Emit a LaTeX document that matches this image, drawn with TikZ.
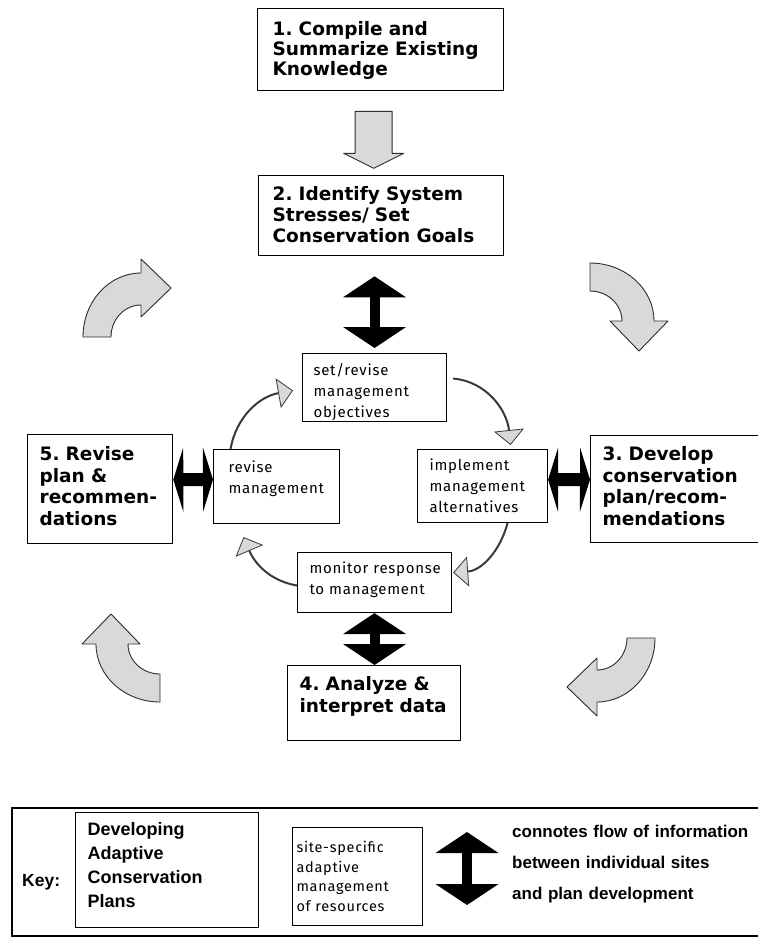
\documentclass[tikz,border=0pt]{standalone}
\usepackage{fontspec}
\setmainfont{DejaVu Sans}
\newfontfamily\keyfont{Liberation Sans}
\newfontfamily\handfont{Fira Sans}[LetterSpace=5]
\usetikzlibrary{arrows.meta}

\tikzset{
  stage/.style={draw, line width=1.3pt, anchor=north west, inner ysep=0pt, align=left,
    font=\bfseries\fontsize{18.5}{21.5}\selectfont},
  site/.style={draw, line width=1.1pt, anchor=north west, inner ysep=0pt, align=left,
    font=\handfont\fontsize{15}{21}\selectfont},
  keytext/.style={inner sep=0pt, font=\keyfont\bfseries\fontsize{17.5}{21}\selectfont},
  infoflow/.style={line width=10pt,
    {Triangle[length=21pt,width=62pt]}-{Triangle[length=21pt,width=62pt]}},
  sideflow/.style={line width=13pt,
    {Triangle[length=10pt,width=64pt]}-{Triangle[length=10pt,width=64pt]}},
  cycleline/.style={draw=gray!45!black, line width=2pt,
    -{Triangle[length=15pt,width=30pt,fill=gray!30,line width=0.8pt]}},
  bendarrow/.style={draw=gray!35!black, line width=0.9pt, fill=gray!30, line join=round},
}

% big curved arrow, tail up, head pointing down; placed by centre and rotation
\newcommand{\bentarrow}[2]{%
  \draw[bendarrow, shift={#1}, rotate=#2]
    (0,58) arc[start angle=90, end angle=0, x radius=64pt, y radius=58pt]
    -- (78,0) -- (49,-30) -- (20,0) -- (32,0)
    arc[start angle=0, end angle=90, x radius=32pt, y radius=30pt] -- cycle;}

\begin{document}
\begin{tikzpicture}[x=1pt, y=1pt]
  \useasboundingbox (0,0) rectangle (758,-938);
  \clip (0,0) rectangle (758,-938);

  % plan development stages
  \node[stage, inner xsep=15pt, text width=216pt, text height=27pt, text depth=55pt,
    font=\bfseries\fontsize{18.5}{20}\selectfont] (a1) at (257,-8)
    {1.~Compile~and\\Summarize~Existing\\Knowledge};
  \node[stage, inner xsep=14pt, text width=217pt, text height=25pt, text depth=55pt,
    font=\bfseries\fontsize{18.5}{21}\selectfont] (a2) at (258,-175)
    {2.~Identify~System\\Stresses/~Set\\Conservation~Goals};
  \node[stage, inner xsep=12pt, text width=176pt, text height=25pt, text depth=82pt] (a3) at (590,-435)
    {3.~Develop\\conservation\\plan/recom-\\mendations};
  \node[stage, inner xsep=12pt, text width=149pt, text height=25pt, text depth=50pt] (a4) at (287,-665)
    {4.~Analyze~\&\\interpret~data};
  \node[stage, inner xsep=12pt, text width=121pt, text height=26pt, text depth=83pt] (a5) at (27,-434)
    {5.~Revise\\plan~\&\\recommen-\\dations};

  % site-specific management loop
  \node[site, inner xsep=11pt, text width=122pt, text height=22pt, text depth=46pt] (set) at (302,-353)
    {set/revise\\management\\objectives};
  \node[site, inner xsep=12pt, text width=106pt, text height=21pt, text depth=52pt] (impl) at (417,-449)
    {implement\\management\\alternatives};
  \node[site, inner xsep=12pt, text width=130pt, text height=21pt, text depth=39pt] (mon) at (297,-552)
    {\mbox{monitor response}\\\mbox{to management}};
  \node[site, inner xsep=15pt, text width=96pt, text height=23pt, text depth=51pt] (rev) at (213,-449)
    {revise\\management};

  % outer cycle
  \draw[bendarrow, shift={(a1.south)}] (-25.5,-20) -- (11.5,-20) -- (11.5,-62) -- (23,-62)
    -- (-7,-77) -- (-37,-62) -- (-25.5,-62) -- cycle;
  \bentarrow{(141,-337)}{90}
  \bentarrow{(590,-321)}{0}
  \bentarrow{(597,-638)}{-90}
  \bentarrow{(160,-644)}{180}

  % flow between sites and plan
  \draw[infoflow, shorten <=20pt, shorten >=5pt] (set.north |- a2.south) -- (set.north);
  \draw[infoflow] (mon.south) -- (mon.south |- a4.north);
  \draw[sideflow] ([yshift=9.5pt]a5.east) -- ([yshift=7pt]rev.west);
  \draw[sideflow] ([yshift=6.5pt]impl.east) -- ([yshift=9.5pt]a3.west);

  % inner cycle
  \draw[cycleline] ([xshift=6pt,yshift=9pt]set.east) to[out=-5,in=96] ([xshift=28pt,yshift=4pt]impl.north);
  \draw[cycleline] ([xshift=25pt]impl.south) to[out=-105,in=4] ([xshift=1pt,yshift=10pt]mon.east);
  \draw[cycleline] ([yshift=-3pt]mon.west) to[out=170,in=-67] ([xshift=-33pt,yshift=-13pt]rev.south);
  \draw[cycleline] ([xshift=-46pt]rev.north) to[out=80,in=-170] ([xshift=-9pt,yshift=-3pt]set.west);

  % key
  \draw[line width=1.3pt] (12,-808) rectangle (800,-936);
  \node[keytext, anchor=base west] (key) at (22,-886) {Key:};
  \node[draw, line width=1.1pt, anchor=north west, inner ysep=0pt, inner xsep=12pt, text width=159pt,
    text height=23pt, text depth=92pt, align=left,
    font=\keyfont\bfseries\fontsize{18}{24}\selectfont] (kplan) at (75,-812)
    {Developing\\Adaptive\\Conservation\\Plans};
  \node[site, inner xsep=4pt, text width=122pt, text height=25pt, text depth=73pt,
    font=\handfont\fontsize{14.5}{19.5}\selectfont] (ksite) at (292,-827)
    {site-specific\\adaptive\\management\\\mbox{of resources}};
  \coordinate (kup) at (467,-832);
  \coordinate (kdown) at (467,-905);
  \draw[infoflow] (kup) -- (kdown);
  \node[keytext, anchor=base west, text width=300pt, align=left,
    font=\keyfont\bfseries\fontsize{17}{31}\selectfont] (flowtxt) at (512,-837)
    {connotes flow of information\\between individual sites\\and plan development};
\end{tikzpicture}
\end{document}
